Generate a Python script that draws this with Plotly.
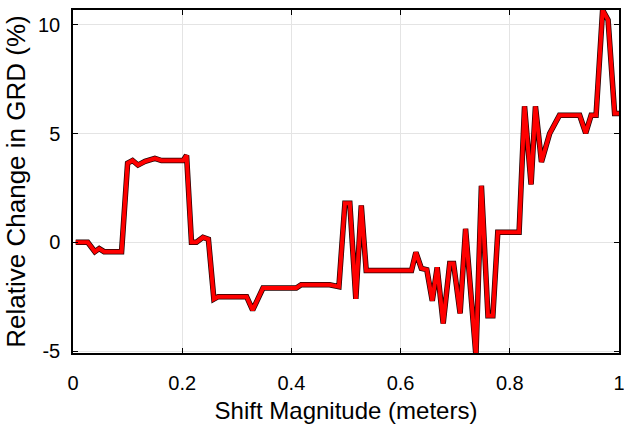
import plotly.graph_objects as go

# Shift magnitude (m) and relative change in GRD (%)
shift_m = [0.005, 0.027, 0.040, 0.048, 0.057, 0.089, 0.100, 0.109, 0.119, 0.132,
           0.150, 0.162, 0.202, 0.208, 0.217, 0.226, 0.238, 0.248, 0.258, 0.266,
           0.318, 0.329, 0.348, 0.409, 0.418, 0.470, 0.487, 0.498, 0.507, 0.518,
           0.528, 0.537, 0.620, 0.628, 0.638, 0.648, 0.658, 0.667, 0.678, 0.690,
           0.697, 0.709, 0.719, 0.738, 0.748, 0.760, 0.769, 0.778, 0.817, 0.827,
           0.839, 0.847, 0.858, 0.873, 0.891, 0.928, 0.939, 0.949, 0.958, 0.970,
           0.980, 0.992, 1.000]
grd_change = [0.0, 0.0, -0.43, -0.29, -0.43, -0.43, 3.64, 3.76, 3.55, 3.72,
              3.86, 3.76, 3.76, 4.0, 0.0, 0.0, 0.23, 0.14, -2.61, -2.5,
              -2.5, -3.12, -2.1, -2.1, -1.95, -1.95, -2.04, 1.8, 1.8, -2.6,
              1.69, -1.3, -1.3, -0.46, -1.2, -1.26, -2.69, -1.15, -3.73, -0.97,
              -0.97, -3.27, 0.62, -5.22, 2.6, -3.38, -3.38, 0.46, 0.46, 6.25,
              2.66, 6.25, 3.69, 5.0, 5.84, 5.84, 5.02, 5.84, 5.84, 10.68,
              10.22, 5.92, 5.92]

x_ticks = [0, 0.2, 0.4, 0.6, 0.8, 1]
x_labels = ["0", "0.2", "0.4", "0.6", "0.8", "1"]
y_ticks = [-5, 0, 5, 10]
y_labels = ["-5", "0", "5", "10"]

FONT = "Liberation Sans, Arial, sans-serif"

fig = go.Figure()
# dark outline under the red curve
fig.add_trace(go.Scatter(x=shift_m, y=grd_change, mode="lines",
                         line=dict(color="#220000", width=5.5),
                         hoverinfo="skip", showlegend=False))
fig.add_trace(go.Scatter(x=shift_m, y=grd_change, mode="lines",
                         line=dict(color="#ff0000", width=4),
                         showlegend=False))

axis_common = dict(
    showline=True, linecolor="black", linewidth=1.5, mirror="ticks",
    ticks="inside", ticklen=5, tickwidth=1.2, tickcolor="black",
    showgrid=True, gridcolor="#e4e4e4", gridwidth=1,
    zeroline=False, automargin=False, ticklabeloverflow="allow",
    tickfont=dict(family=FONT, size=20, color="black"),
)

fig.update_xaxes(range=[0, 1], tickvals=x_ticks, ticktext=x_labels,
                 ticklabelstandoff=11,
                 title=dict(text="Shift Magnitude (meters)", standoff=9,
                            font=dict(family=FONT, size=24, color="black")),
                 **axis_common)
fig.update_yaxes(range=[-5.09, 10.68], tickvals=y_ticks, ticktext=y_labels,
                 ticklabelstandoff=7,
                 title=dict(text="Relative Change in GRD (%)", standoff=5,
                            font=dict(family=FONT, size=26, color="black")),
                 **axis_common)

fig.update_layout(
    width=624, height=428,
    margin=dict(l=73, r=5, t=10, b=75),
    paper_bgcolor="white", plot_bgcolor="white",
)

fig.write_html("out.html")
